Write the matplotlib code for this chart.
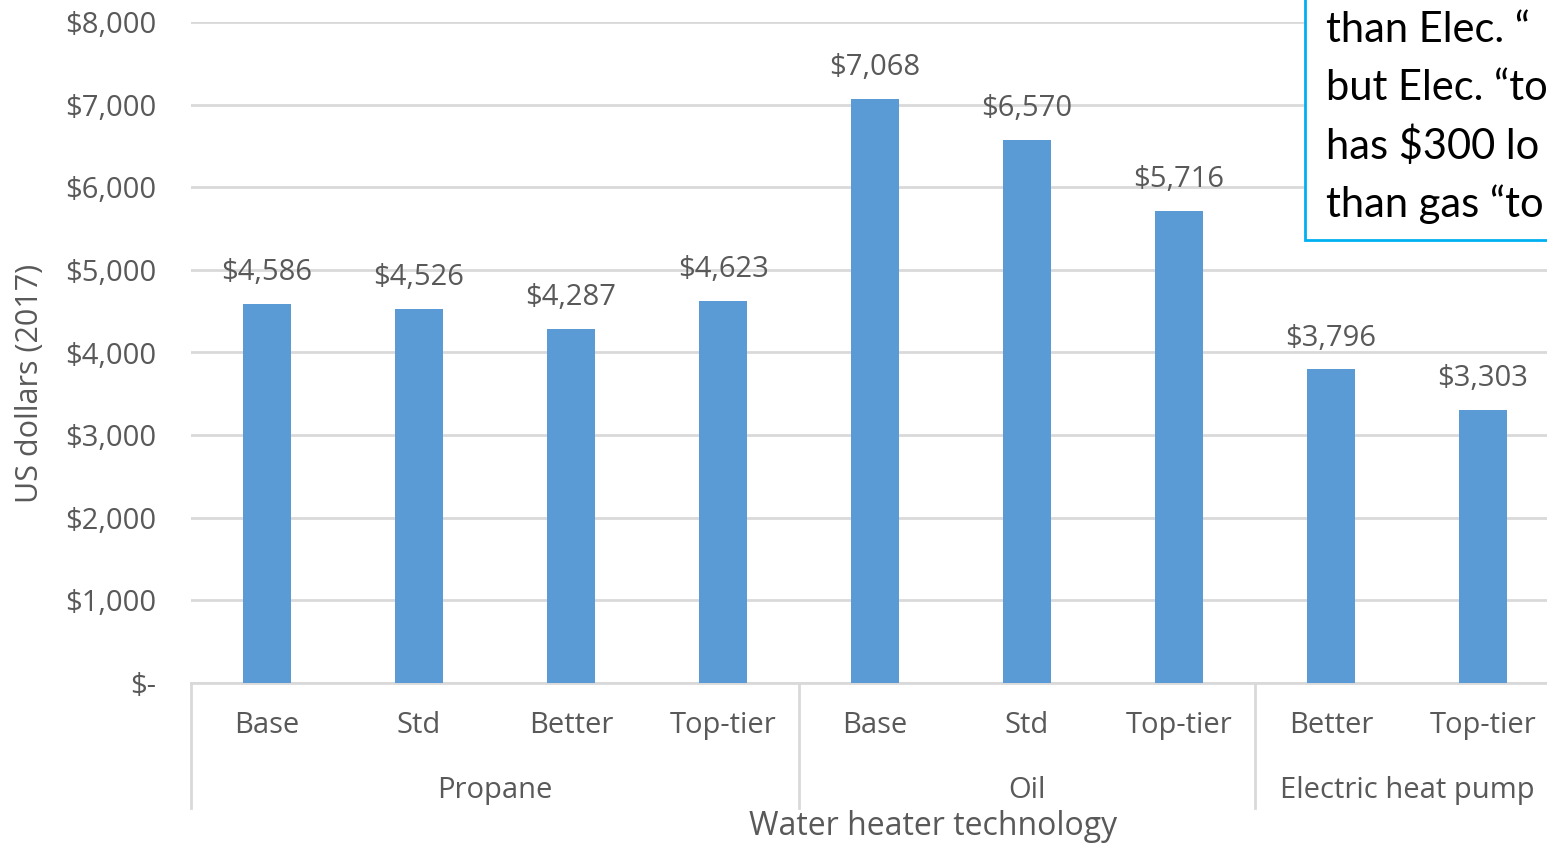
import matplotlib
matplotlib.use("Agg")
import matplotlib.pyplot as plt
from matplotlib.patches import Rectangle
from matplotlib.ticker import FuncFormatter
import matplotlib.transforms as mtransforms

# Data
tiers = ["Base", "Std", "Better", "Top-tier", "Base", "Std", "Top-tier", "Better", "Top-tier"]
costs = [4586, 4526, 4287, 4623, 7068, 6570, 5716, 3796, 3303]
groups = ["Propane", "Oil", "Electric heat pump"]
group_sizes = [4, 3, 2]
y_ticks = [0, 1000, 2000, 3000, 4000, 5000, 6000, 7000, 8000]
note_lines = ["than Elec. \u201c", "but Elec. \u201cto", "has $300 lo", "than gas \u201cto"]

W, H = 1547, 846
fig = plt.figure(figsize=(W / 100, H / 100), dpi=100)
plt.rcParams["font.family"] = ["Open Sans", "DejaVu Sans"]

gray = "#595959"
grid_c = "#D9D9D9"
bar_c = "#5B9BD5"
fs = 21

left, right = 191 / W, 1559 / W
bottom, top = (H - 683) / H, (H - 22) / H
ax = fig.add_axes([left, bottom, right - left, top - bottom])

x = list(range(len(costs)))
ax.bar(x, costs, width=0.32, color=bar_c, zorder=3)
ax.set_xlim(-0.5, len(costs) - 0.5)
ax.set_ylim(0, 8000)

ax.set_yticks(y_ticks)
ax.yaxis.set_major_formatter(FuncFormatter(lambda v, p: "$-" if v == 0 else f"${v:,.0f}"))
ax.tick_params(axis="y", length=0, pad=25, labelsize=fs, labelcolor=gray)
ax.set_xticks([])
ax.grid(axis="y", color=grid_c, linewidth=2, zorder=0)
for s in ["top", "right", "left"]:
    ax.spines[s].set_visible(False)
ax.spines["bottom"].set_color(grid_c)
ax.spines["bottom"].set_linewidth(2)

# value labels
for xi, v in zip(x, costs):
    ax.annotate(f"${v:,}", (xi, v), xytext=(0, 12), textcoords="offset points",
                ha="center", va="bottom", fontsize=fs, color=gray)

# category and group labels
trans = mtransforms.blended_transform_factory(ax.transData, ax.transAxes)
px = 1.0 / 661.0
for xi, t in zip(x, tiers):
    ax.text(xi, -42 * px, t, transform=trans, ha="center", va="center",
            fontsize=fs, color=gray)

start = 0
seps = [-0.5]
for g, n in zip(groups, group_sizes):
    center = start + (n - 1) / 2
    ax.text(center, -107 * px, g, transform=trans, ha="center", va="center",
            fontsize=fs, color=gray)
    start += n
    seps.append(start - 0.5)
for s in seps:
    ax.plot([s, s], [0, -125 * px], transform=trans, color=grid_c, lw=2,
            clip_on=False, zorder=1)

# axis titles
fig.text(933 / W, 1 - 826 / H, "Water heater technology", ha="center", va="center",
         fontsize=23, color=gray)
fig.text(30 / W, 1 - 383 / H, "US dollars (2017)", ha="center", va="center",
         rotation=90, fontsize=22, color=gray)

# note box
fig.patches.append(Rectangle((1305 / W, 1 - 240 / H), 300 / W, 300 / H,
                             transform=fig.transFigure, fill=True, facecolor="white",
                             edgecolor="#00B0F0", linewidth=2, zorder=5))
for i, line in enumerate(note_lines):
    fig.text(1326 / W, 1 - (30 + i * 58) / H, line, ha="left", va="center",
             fontsize=30, color="black", family=["Lato", "DejaVu Sans"], zorder=6)

fig.savefig("out.png", dpi=100)
